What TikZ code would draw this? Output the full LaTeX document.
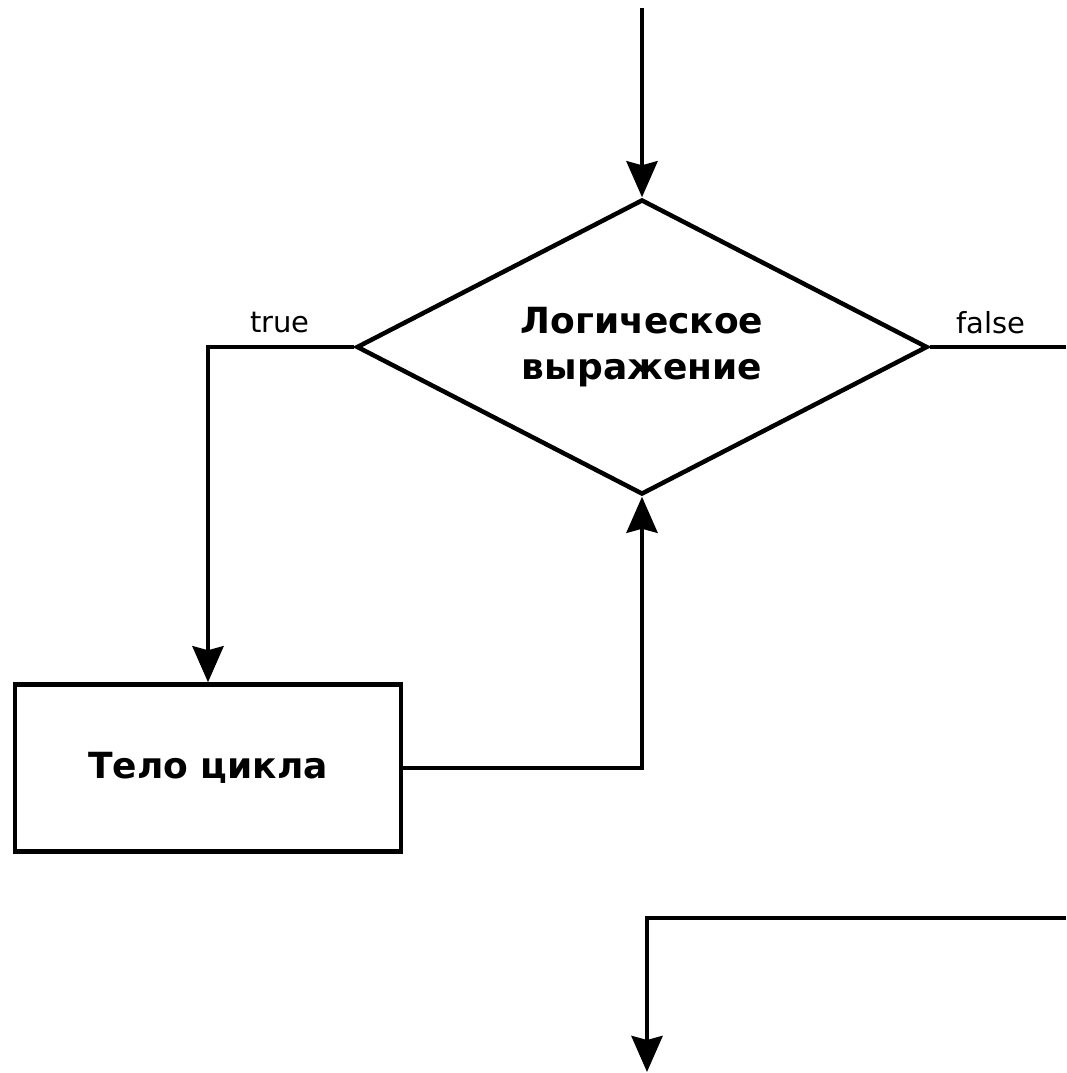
\documentclass[tikz,border=0pt]{standalone}
\usepackage{fontspec}
\setmainfont{DejaVu Sans}
\usetikzlibrary{shapes.geometric,arrows.meta}
\begin{document}
\begin{tikzpicture}[x=1pt,y=-1pt,
  conn/.style={line width=4.5pt},
  arr/.style={conn,-{Stealth[length=36pt,width=31pt,inset=4pt]}},
  decision/.style={diamond,draw,line width=4.5pt,minimum width=571pt,minimum height=295pt,inner sep=0pt,aspect=1.94,font=\fontsize{36}{46}\selectfont\bfseries,align=center},
  process/.style={rectangle,draw,line width=4.5pt,minimum width=386pt,minimum height=167pt,inner sep=0pt,font=\fontsize{36}{44}\selectfont\bfseries},
  lbl/.style={font=\fontsize{29}{32}\selectfont,inner sep=0pt}]
\useasboundingbox (0,0) rectangle (1066,1073);
\node[decision] (cond) at (642,347) {Логическое\\выражение};
\node[process] (body) at (208,768) {Тело цикла};
\coordinate (start) at (642,8);
\coordinate (falseEnd) at (1066,347);
\coordinate (joinIn) at (1066,918);
\coordinate (outEnd) at (647,1072);
\draw[arr] (start) -- (cond.north);
\draw[arr] (cond.west) -| (body.north);
\draw[conn] (cond.east) -- (falseEnd);
\draw[arr] (body.east) -| (cond.south);
\draw[arr] (joinIn) -| (outEnd);
\node[lbl] (ltrue) at (280,323) {true};
\node[lbl] (lfalse) at (991,323) {false};
\end{tikzpicture}
\end{document}
